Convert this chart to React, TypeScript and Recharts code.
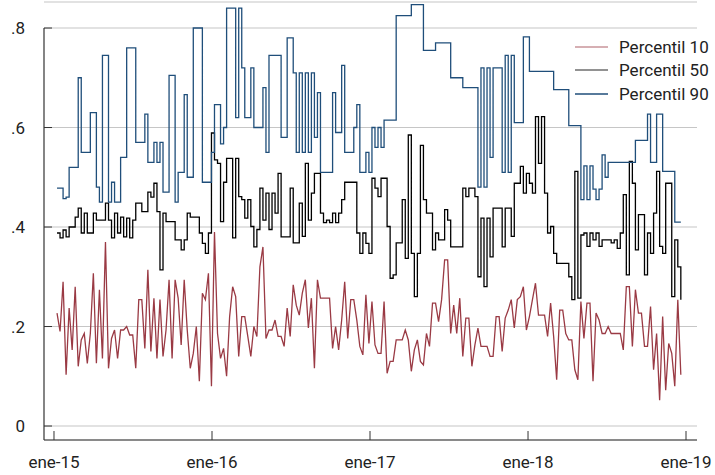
import { LineChart, Line, XAxis, YAxis, CartesianGrid, Legend, ReferenceLine } from 'recharts';

// weekly observations, week 1 = first week of Jan 2015
const p10 = [
  0.227, 0.19, 0.29, 0.103, 0.237, 0.153, 0.28, 0.12, 0.173, 0.186,
  0.126, 0.186, 0.307, 0.126, 0.274, 0.136, 0.37, 0.116, 0.176, 0.193,
  0.136, 0.193, 0.193, 0.2, 0.183, 0.183, 0.116, 0.254, 0.254, 0.156,
  0.314, 0.15, 0.257, 0.136, 0.254, 0.14, 0.193, 0.294, 0.136, 0.294,
  0.257, 0.163, 0.294, 0.193, 0.116, 0.146, 0.2, 0.09, 0.267, 0.254,
  0.307, 0.08, 0.39, 0.186, 0.136, 0.156, 0.1, 0.22, 0.28, 0.26,
  0.14, 0.22, 0.22, 0.18, 0.14, 0.2, 0.18, 0.32, 0.36, 0.176,
  0.193, 0.193, 0.213, 0.18, 0.18, 0.16, 0.237, 0.18, 0.284, 0.243,
  0.223, 0.267, 0.294, 0.197, 0.257, 0.116, 0.294, 0.257, 0.257, 0.257,
  0.257, 0.156, 0.2, 0.153, 0.213, 0.29, 0.176, 0.254, 0.254, 0.213,
  0.16, 0.143, 0.264, 0.166, 0.25, 0.163, 0.146, 0.146, 0.25, 0.106,
  0.13, 0.13, 0.173, 0.173, 0.173, 0.193, 0.173, 0.11, 0.153, 0.173,
  0.13, 0.123, 0.186, 0.16, 0.247, 0.247, 0.21, 0.254, 0.334, 0.334,
  0.186, 0.243, 0.186, 0.257, 0.14, 0.217, 0.217, 0.12, 0.163, 0.197,
  0.16, 0.16, 0.16, 0.14, 0.14, 0.22, 0.22, 0.15, 0.217, 0.233,
  0.254, 0.197, 0.254, 0.26, 0.28, 0.193, 0.22, 0.254, 0.287, 0.223,
  0.223, 0.223, 0.18, 0.247, 0.18, 0.093, 0.233, 0.233, 0.186, 0.173,
  0.173, 0.113, 0.093, 0.25, 0.176, 0.247, 0.247, 0.09, 0.227, 0.213,
  0.186, 0.186, 0.2, 0.186, 0.186, 0.186, 0.186, 0.153, 0.28, 0.28,
  0.16, 0.274, 0.227, 0.227, 0.16, 0.16, 0.24, 0.113, 0.186, 0.052,
  0.22, 0.072, 0.166, 0.146, 0.08, 0.254, 0.103,
];

const p50 = [
  0.388, 0.378, 0.394, 0.38, 0.4, 0.4, 0.42, 0.438, 0.388, 0.428,
  0.388, 0.388, 0.428, 0.414, 0.414, 0.414, 0.448, 0.414, 0.378, 0.428,
  0.388, 0.42, 0.38, 0.418, 0.378, 0.414, 0.448, 0.448, 0.431, 0.431,
  0.47, 0.46, 0.488, 0.431, 0.314, 0.428, 0.411, 0.411, 0.411, 0.374,
  0.374, 0.354, 0.374, 0.428, 0.42, 0.42, 0.42, 0.388, 0.367, 0.347,
  0.388, 0.589, 0.535, 0.528, 0.411, 0.49, 0.538, 0.538, 0.378, 0.538,
  0.461, 0.455, 0.418, 0.455, 0.401, 0.36, 0.395, 0.478, 0.414, 0.468,
  0.395, 0.468, 0.428, 0.508, 0.38, 0.38, 0.38, 0.478, 0.368, 0.368,
  0.448, 0.381, 0.528, 0.414, 0.468, 0.508, 0.508, 0.428, 0.409, 0.414,
  0.409, 0.428, 0.409, 0.428, 0.455, 0.49, 0.49, 0.49, 0.49, 0.388,
  0.347, 0.388, 0.367, 0.347, 0.498, 0.478, 0.461, 0.498, 0.498, 0.401,
  0.297, 0.304, 0.368, 0.368, 0.455, 0.337, 0.585, 0.347, 0.26, 0.347,
  0.564, 0.455, 0.428, 0.428, 0.354, 0.388, 0.374, 0.374, 0.435, 0.414,
  0.36, 0.36, 0.36, 0.36, 0.478, 0.461, 0.478, 0.478, 0.461, 0.3,
  0.418, 0.28, 0.418, 0.34, 0.438, 0.438, 0.438, 0.36, 0.438, 0.438,
  0.381, 0.488, 0.488, 0.522, 0.468, 0.508, 0.488, 0.468, 0.622, 0.528,
  0.622, 0.468, 0.388, 0.401, 0.347, 0.327, 0.327, 0.327, 0.327, 0.3,
  0.254, 0.512, 0.257, 0.384, 0.388, 0.361, 0.388, 0.374, 0.388, 0.361,
  0.374, 0.374, 0.374, 0.368, 0.374, 0.357, 0.388, 0.465, 0.304, 0.532,
  0.488, 0.354, 0.425, 0.425, 0.304, 0.388, 0.347, 0.428, 0.512, 0.361,
  0.347, 0.488, 0.488, 0.26, 0.374, 0.32, 0.254,
];

const p90 = [
  0.478, 0.478, 0.457, 0.46, 0.52, 0.52, 0.52, 0.7, 0.55, 0.55,
  0.55, 0.63, 0.63, 0.48, 0.45, 0.745, 0.745, 0.45, 0.49, 0.45,
  0.45, 0.54, 0.54, 0.76, 0.76, 0.76, 0.57, 0.57, 0.57, 0.627,
  0.53, 0.53, 0.57, 0.53, 0.57, 0.47, 0.47, 0.705, 0.705, 0.45,
  0.51, 0.51, 0.666, 0.5, 0.5, 0.8, 0.8, 0.8, 0.49, 0.49,
  0.49, 0.55, 0.646, 0.646, 0.567, 0.6, 0.84, 0.84, 0.84, 0.62,
  0.84, 0.72, 0.62, 0.62, 0.72, 0.6, 0.6, 0.6, 0.68, 0.55,
  0.745, 0.745, 0.745, 0.745, 0.58, 0.58, 0.78, 0.78, 0.71, 0.55,
  0.71, 0.55, 0.71, 0.55, 0.71, 0.58, 0.67, 0.51, 0.51, 0.51,
  0.51, 0.67, 0.59, 0.59, 0.725, 0.55, 0.55, 0.55, 0.6, 0.646,
  0.51, 0.51, 0.55, 0.51, 0.6, 0.56, 0.6, 0.56, 0.615, 0.615,
  0.615, 0.615, 0.825, 0.825, 0.825, 0.825, 0.825, 0.847, 0.847, 0.847,
  0.847, 0.755, 0.755, 0.755, 0.755, 0.77, 0.77, 0.77, 0.77, 0.77,
  0.7, 0.7, 0.7, 0.7, 0.68, 0.68, 0.68, 0.68, 0.68, 0.48,
  0.72, 0.48, 0.72, 0.54, 0.72, 0.72, 0.72, 0.51, 0.745, 0.51,
  0.745, 0.61, 0.61, 0.61, 0.782, 0.782, 0.713, 0.713, 0.713, 0.713,
  0.713, 0.713, 0.713, 0.713, 0.676, 0.676, 0.676, 0.676, 0.676, 0.604,
  0.604, 0.604, 0.604, 0.455, 0.523, 0.455, 0.523, 0.476, 0.455, 0.476,
  0.545, 0.5, 0.53, 0.53, 0.53, 0.53, 0.53, 0.53, 0.53, 0.53,
  0.53, 0.574, 0.574, 0.574, 0.574, 0.627, 0.53, 0.53, 0.627, 0.627,
  0.512, 0.512, 0.512, 0.512, 0.41, 0.41, 0.41,
];

// week position of each January 1st
const yearTicks = [0, 52.18, 104.36, 156.54, 208.71];
const yearLabels = ['ene-15', 'ene-16', 'ene-17', 'ene-18', 'ene-19'];
const valueTicks = [0, 0.2, 0.4, 0.6, 0.8];

const seriesNames = ['Percentil 10', 'Percentil 50', 'Percentil 90'];
const legendColors = ['#c8959a', '#6e6e6e', '#1f4e7a'];

const data = p10.map((v, i) => ({ week: i + 1, p10: v, p50: p50[i], p90: p90[i] }));

const X_MIN = -3.3;
const Y_MIN = -0.0281;

const fmtValue = (v: number) => (v === 0 ? '0' : String(v).replace(/^0/, ''));
const fmtYear = (v: number) => yearLabels[yearTicks.indexOf(v)] ?? '';

function LegendBox() {
  return (
    <div style={{ fontFamily: 'Roboto', fontSize: 17, color: '#222' }}>
      {seriesNames.map((name, i) => (
        <div key={name} style={{ display: 'flex', alignItems: 'center', height: 23.5 }}>
          <svg width={33} height={4} style={{ marginRight: 11 }}>
            <line x1={0} y1={2} x2={33} y2={2} stroke={legendColors[i]} strokeWidth={1.5} />
          </svg>
          <span>{name}</span>
        </div>
      ))}
    </div>
  );
}

export default function App() {
  return (
    <div style={{ position: 'absolute', left: 0, top: 0 }}>
      <LineChart width={715} height={475} data={data} margin={{ top: 2, right: 18, bottom: 0, left: 0 }}>
        <CartesianGrid horizontal vertical={false} stroke="#c6c6c6" strokeWidth={1.2} />
        <XAxis
          dataKey="week"
          type="number"
          domain={[X_MIN, 212.34]}
          ticks={yearTicks}
          tickFormatter={fmtYear}
          height={35}
          stroke="#333"
          tickSize={-9}
          tickMargin={25}
          tick={{ fill: '#222', fontSize: 17, fontFamily: 'Roboto' }}
          allowDataOverflow
        />
        <YAxis
          type="number"
          domain={[Y_MIN, 0.8523]}
          ticks={valueTicks}
          tickFormatter={fmtValue}
          width={44}
          stroke="#333"
          axisLine={false}
          tickSize={-8}
          tickMargin={27}
          tick={{ fill: '#222', fontSize: 17, fontFamily: 'Roboto' }}
          allowDataOverflow
        />
        <ReferenceLine
          segment={[{ x: X_MIN, y: Y_MIN }, { x: X_MIN, y: 0.8 }]}
          stroke="#333"
          strokeWidth={1.2}
        />
        <Legend
          layout="horizontal"
          verticalAlign="middle"
          align="center"
          wrapperStyle={{ top: 35, left: 575, width: 140, height: 72 }}
          content={() => <LegendBox />}
        />
        <Line type="linear" dataKey="p10" stroke="#9a3a44" strokeWidth={1.3} dot={false} isAnimationActive={false} />
        <Line type="stepAfter" dataKey="p50" stroke="#000" strokeWidth={1.3} dot={false} isAnimationActive={false} />
        <Line type="stepAfter" dataKey="p90" stroke="#1f4e7a" strokeWidth={1.3} dot={false} isAnimationActive={false} />
      </LineChart>
    </div>
  );
}
